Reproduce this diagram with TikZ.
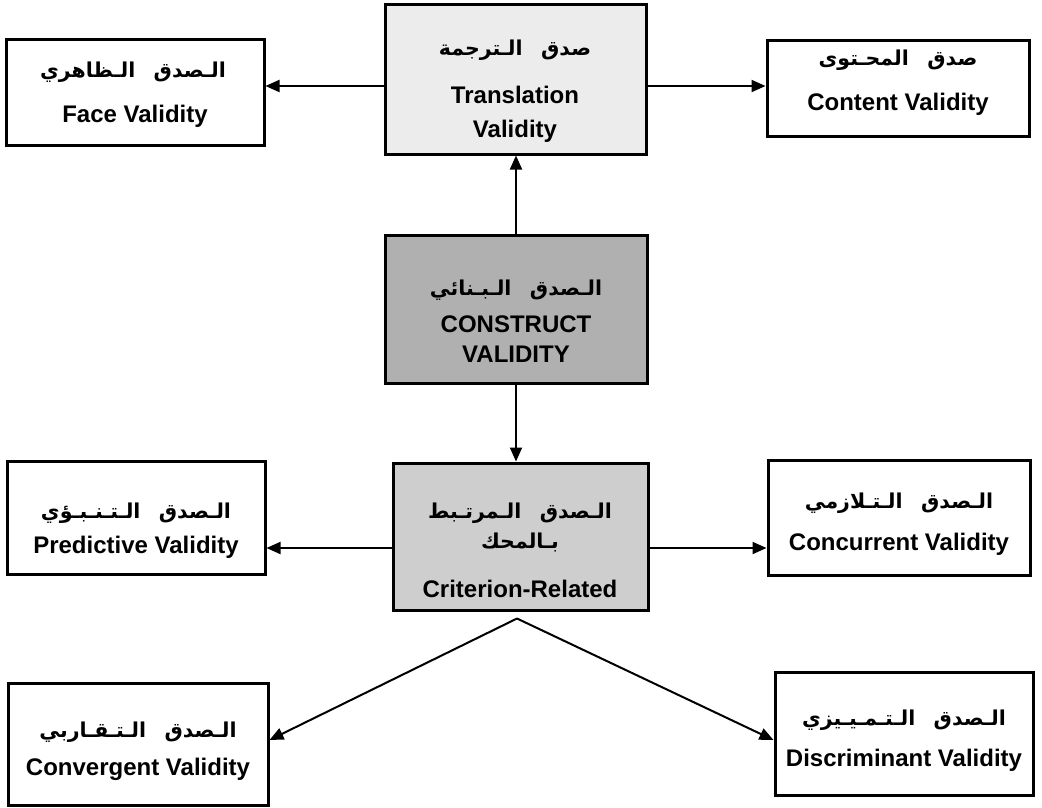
\documentclass[tikz,border=0pt]{standalone}
\usepackage{fontspec}
\setmainfont{Liberation Sans}
\newfontfamily\arabicfont[Script=Arabic]{DejaVu Sans}
\TeXXeTstate=1
\usetikzlibrary{arrows.meta,calc}
\definecolor{transfill}{RGB}{236,236,236}
\definecolor{constfill}{RGB}{176,176,176}
\definecolor{critfill}{RGB}{206,206,206}
\newcommand{\gapw}{\hspace{0.9em}}
\tikzset{
  vbox/.style={draw=black, line width=3pt, rectangle, inner sep=0pt},
  en/.style={anchor=base, inner sep=0pt, font=\bfseries\fontsize{24}{28}\selectfont},
  arl/.style={anchor=base, inner sep=0pt, font=\arabicfont\bfseries\fontsize{20.5}{24}\selectfont},
  arr/.style={line width=2pt, -{Triangle[length=14pt,width=12pt]}},
}
\begin{document}
\begin{tikzpicture}[x=1pt,y=-1pt]
\useasboundingbox[fill=white] (0,0) rectangle (1042,807);
% boxes
\node[vbox, minimum width=258pt, minimum height=106pt] (face) at (135,92) {};
\node[vbox, fill=transfill, minimum width=261pt, minimum height=150pt] (trans) at (515.5,79) {};
\node[vbox, minimum width=262pt, minimum height=96pt] (content) at (898,88) {};
\node[vbox, fill=constfill, minimum width=262pt, minimum height=148pt] (construct) at (516,309) {};
\node[vbox, minimum width=258pt, minimum height=113pt] (pred) at (136,517.5) {};
\node[vbox, fill=critfill, minimum width=255pt, minimum height=147pt] (crit) at (520.5,536.5) {};
\node[vbox, minimum width=262pt, minimum height=115pt] (conc) at (899,517.5) {};
\node[vbox, minimum width=260pt, minimum height=122pt] (conv) at (138,744) {};
\node[vbox, minimum width=258pt, minimum height=123pt] (disc) at (904,733.5) {};
% texts
\node[arl] (faceA) at (133,77) {\beginR الـصدق\gapw الـظاهري\endR};
\node[en]  (faceE) at (135,122) {Face Validity};
\node[arl] (transA) at (515,55) {\beginR صدق\gapw الـترجمة\endR};
\node[en]  (transE1) at (515,103) {Translation};
\node[en]  (transE2) at (515,137) {Validity};
\node[arl] (contentA) at (898,65) {\beginR صدق\gapw المحـتوى\endR};
\node[en]  (contentE) at (898,110) {Content Validity};
\node[arl] (constructA) at (516,295) {\beginR الـصدق\gapw الـبـنائي\endR};
\node[en]  (constructE1) at (516,332) {CONSTRUCT};
\node[en]  (constructE2) at (516,362) {VALIDITY};
\node[arl] (predA) at (136,518) {\beginR الـصدق\gapw الـتـنـبـؤي\endR};
\node[en]  (predE) at (136,553) {Predictive Validity};
\node[arl] (critA1) at (520,518) {\beginR الـصدق\gapw الـمرتـبط\endR};
\node[arl] (critA2) at (520,548) {\beginR بـالمحك\endR};
\node[en]  (critE) at (520,597) {Criterion-Related};
\node[arl] (concA) at (899,508) {\beginR الـصدق\gapw الـتـلازمي\endR};
\node[en]  (concE) at (899,550) {Concurrent Validity};
\node[arl] (convA) at (138,737) {\beginR الـصدق\gapw الـتـقـاربي\endR};
\node[en]  (convE) at (138,775) {Convergent Validity};
\node[arl] (discA) at (904,725) {\beginR الـصدق\gapw الـتـمـيـيزي\endR};
\node[en]  (discE) at (904,766) {Discriminant Validity};
% connectors
\coordinate (split) at ([xshift=-3.5pt,yshift=-7pt]crit.south);
\draw[arr] ([yshift=-7pt]trans.west) -- ([yshift=-7pt]trans.west -| face.east);
\draw[arr] ([yshift=-7pt]trans.east) -- ([yshift=-7pt]trans.east -| content.west);
\draw[arr] (construct.north) -- (construct.north |- trans.south);
\draw[arr] (construct.south) -- (construct.south |- crit.north);
\draw[arr] ([yshift=-11.5pt]crit.west) -- ([yshift=-11.5pt]crit.west -| pred.east);
\draw[arr] ([yshift=-11.5pt]crit.east) -- ([yshift=-11.5pt]crit.east -| conc.west);
\draw[arr] (split) -- ([yshift=4pt]conv.east);
\draw[arr] (split) -- ([yshift=-6.5pt]disc.west);
\end{tikzpicture}
\end{document}
